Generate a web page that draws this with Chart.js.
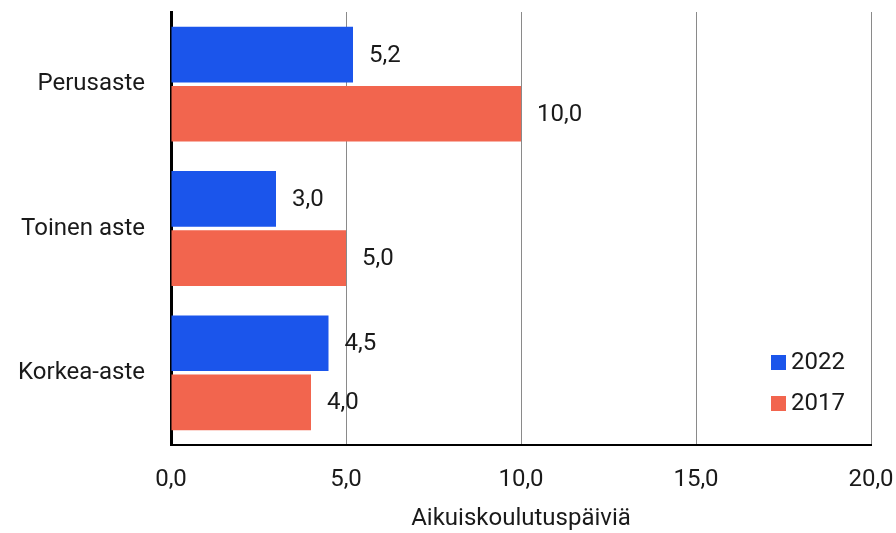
<!DOCTYPE html>
<html>
<head>
<meta charset="utf-8">
<script src="https://cdn.jsdelivr.net/npm/chart.js@4.4.0/dist/chart.umd.min.js"></script>
<style>
  html, body { margin: 0; padding: 0; background: #fff; }
  #wrap { width: 896px; height: 533px; }
</style>
</head>
<body>
<div id="wrap"><canvas id="chart"></canvas></div>
<script>
// ===== 資料 =====
const categories = ['Perusaste', 'Toinen aste', 'Korkea-aste'];
const series2022 = [5.2, 3.0, 4.5];
const series2017 = [10.0, 5.0, 4.0];
const seriesNames = ['2022', '2017'];
const xTicks = [0, 5, 10, 15, 20];
const axisTitle = 'Aikuiskoulutuspäiviä';

const BLUE = '#1b55eb';
const RED = '#f2654e';
const INK = '#1a1a1a';
const FONT = 'Roboto, "Noto Sans", sans-serif';
const SIZE = 24;

const fmt = v => v.toFixed(1).replace('.', ',');

// ===== 數值標籤 =====
const valueLabels = {
  id: 'valueLabels',
  afterDatasetsDraw(chart) {
    const ctx = chart.ctx;
    ctx.save();
    ctx.font = SIZE + 'px ' + FONT;
    ctx.fillStyle = INK;
    ctx.textAlign = 'left';
    ctx.textBaseline = 'middle';
    chart.data.datasets.forEach((ds, i) => {
      chart.getDatasetMeta(i).data.forEach((bar, j) => {
        ctx.fillText(fmt(ds.data[j]), bar.x + 16, bar.y + 1);
      });
    });
    ctx.restore();
  }
};

// ===== 圖例（圖表區右下）=====
const cornerLegend = {
  id: 'cornerLegend',
  afterDraw(chart) {
    const ctx = chart.ctx;
    const a = chart.chartArea;
    ctx.save();
    ctx.font = SIZE + 'px ' + FONT;
    ctx.textBaseline = 'middle';
    chart.data.datasets.forEach((ds, i) => {
      const y = a.bottom - 83 + i * 41;
      const x = a.right - 100;
      ctx.fillStyle = ds.backgroundColor;
      ctx.fillRect(x, y - 7, 15, 15);
      ctx.fillStyle = INK;
      ctx.fillText(ds.label, x + 20, y + 1);
    });
    ctx.restore();
  }
};

new Chart(document.getElementById('chart'), {
  type: 'bar',
  data: {
    labels: categories,
    datasets: [
      { label: seriesNames[0], data: series2022, backgroundColor: BLUE },
      { label: seriesNames[1], data: series2017, backgroundColor: RED }
    ]
  },
  options: {
    indexAxis: 'y',
    responsive: true,
    maintainAspectRatio: false,
    animation: false,
    categoryPercentage: 0.82,
    barPercentage: 0.94,
    layout: { padding: { top: 12, right: 25, bottom: 0, left: 0 } },
    plugins: {
      legend: { display: false },
      tooltip: { enabled: false }
    },
    scales: {
      x: {
        min: 0,
        max: 20,
        afterBuildTicks(scale) { scale.ticks = xTicks.map(v => ({ value: v })); },
        afterFit(scale) {
          scale.height = 88;
          scale.paddingLeft = 0;
          scale.paddingRight = 0;
        },
        grid: { color: '#8a8a8a', lineWidth: 1, drawTicks: false },
        border: { display: true, color: '#000', width: 2 },
        ticks: {
          callback: v => fmt(v),
          color: INK,
          padding: 21,
          maxRotation: 0,
          font: { family: FONT, size: SIZE }
        },
        title: {
          display: true,
          text: axisTitle,
          color: INK,
          padding: { top: 0, bottom: 0 },
          font: { family: FONT, size: SIZE }
        }
      },
      y: {
        grid: { display: false, drawTicks: false },
        border: { display: true, color: '#000', width: 3 },
        afterFit(scale) {
          scale.width = 171;
          scale.paddingTop = 0;
          scale.paddingBottom = 0;
        },
        ticks: {
          color: INK,
          padding: 26,
          font: { family: FONT, size: SIZE }
        }
      }
    }
  },
  plugins: [valueLabels, cornerLegend]
});
</script>
</body>
</html>
